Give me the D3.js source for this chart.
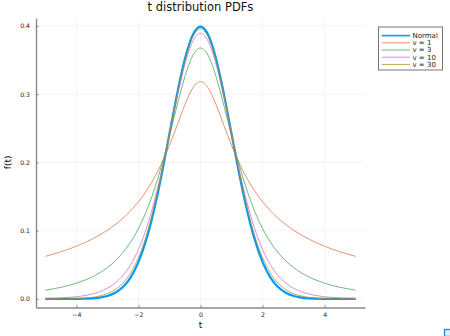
<!DOCTYPE html>
<html>
<head>
<meta charset="utf-8">
<script src="https://cdn.jsdelivr.net/npm/d3@7"></script>
<style>
  html, body { margin: 0; padding: 0; background: #fff; }
  svg { display: block; font-family: "DejaVu Sans", sans-serif; }
</style>
</head>
<body>
<svg id="chart" width="450" height="336"></svg>
<script>
// Sample points along t
const tValues = [
  -5, -4.75, -4.5, -4.25, -4, -3.75, -3.5, -3.25, -3, -2.75, -2.5, -2.25, -2, -1.75, -1.5, -1.25, -1, -0.75, -0.5, -0.25,
  0, 0.25, 0.5, 0.75, 1, 1.25, 1.5, 1.75, 2, 2.25, 2.5, 2.75, 3, 3.25, 3.5, 3.75, 4, 4.25, 4.5, 4.75, 5
];

// Density values at each sample point
const normalPdf = [
  0.00000, 0.00001, 0.00002, 0.00005, 0.00013, 0.00035, 0.00087, 0.00203, 0.00443, 0.00909, 0.01753, 0.03174, 0.05399, 0.08628, 0.12952, 0.18265, 0.24197, 0.30114, 0.35207, 0.38667,
  0.39894,
  0.38667, 0.35207, 0.30114, 0.24197, 0.18265, 0.12952, 0.08628, 0.05399, 0.03174, 0.01753, 0.00909, 0.00443, 0.00203, 0.00087, 0.00035, 0.00013, 0.00005, 0.00002, 0.00001, 0.00000
];
const nu1Pdf = [
  0.06243, 0.06558, 0.06905, 0.07291, 0.07720, 0.08202, 0.08745, 0.09361, 0.10066, 0.10878, 0.11822, 0.12928, 0.14235, 0.15793, 0.17657, 0.19885, 0.22508, 0.25465, 0.28470, 0.30881,
  0.31831,
  0.30881, 0.28470, 0.25465, 0.22508, 0.19885, 0.17657, 0.15793, 0.14235, 0.12928, 0.11822, 0.10878, 0.10066, 0.09361, 0.08745, 0.08202, 0.07720, 0.07291, 0.06905, 0.06558, 0.06243
];
const nu3Pdf = [
  0.01289, 0.01478, 0.01704, 0.01976, 0.02306, 0.02710, 0.03207, 0.03824, 0.04594, 0.05563, 0.06789, 0.08342, 0.10312, 0.12794, 0.15877, 0.19597, 0.23873, 0.28403, 0.32597, 0.35636,
  0.36755,
  0.35636, 0.32597, 0.28403, 0.23873, 0.19597, 0.15877, 0.12794, 0.10312, 0.08342, 0.06789, 0.05563, 0.04594, 0.03824, 0.03207, 0.02710, 0.02306, 0.01976, 0.01704, 0.01478, 0.01289
];
const nu10Pdf = [
  0.00074, 0.00106, 0.00154, 0.00224, 0.00328, 0.00482, 0.00714, 0.01058, 0.01571, 0.02328, 0.03434, 0.05019, 0.07235, 0.10232, 0.14106, 0.18828, 0.24161, 0.29595, 0.34392, 0.37718,
  0.38911,
  0.37718, 0.34392, 0.29595, 0.24161, 0.18828, 0.14106, 0.10232, 0.07235, 0.05019, 0.03434, 0.02328, 0.01571, 0.01058, 0.00714, 0.00482, 0.00328, 0.00224, 0.00154, 0.00106, 0.00074
];
const nu30Pdf = [
  0.00004, 0.00009, 0.00017, 0.00034, 0.00065, 0.00124, 0.00233, 0.00429, 0.00773, 0.01358, 0.02314, 0.03814, 0.06051, 0.09206, 0.13371, 0.18474, 0.24193, 0.29940, 0.34932, 0.38347,
  0.39563,
  0.38347, 0.34932, 0.29940, 0.24193, 0.18474, 0.13371, 0.09206, 0.06051, 0.03814, 0.02314, 0.01358, 0.00773, 0.00429, 0.00233, 0.00124, 0.00065, 0.00034, 0.00017, 0.00009, 0.00004
];

const seriesNames = ["Normal", "v = 1", "v = 3", "v = 10", "v = 30"];
const seriesValues = [normalPdf, nu1Pdf, nu3Pdf, nu10Pdf, nu30Pdf];

const xTicks = [-4, -2, 0, 2, 4];
const xTickLabels = ["\u22124", "\u22122", "0", "2", "4"];
const yTicks = [0, 0.1, 0.2, 0.3, 0.4];
const yTickLabels = ["0.0", "0.1", "0.2", "0.3", "0.4"];

const titleText = "t distribution PDFs";
const xLabel = "t";
const yLabel = "f(t)";

// Styling
const colors = ["#009AFA", "#E26F46", "#3DA44D", "#C270D2", "#AC8E18"];
const widths = [2.2, 1, 1, 1, 1];
const legendWidths = [1.6, 1, 1, 1, 1];
const opacities = [1, 0.75, 0.75, 0.75, 0.75];

const svg = d3.select("#chart");
const plot = { left: 36, right: 365, top: 18, bottom: 307.5 };

const x = d3.scaleLinear().domain([-5.3, 5.3]).range([plot.left, plot.right]);
const y = d3.scaleLinear().domain([-0.0125, 0.4115]).range([plot.bottom, plot.top]);

// Grid
const grid = svg.append("g").attr("stroke", "#000").attr("stroke-opacity", 0.08).attr("stroke-width", 0.6);
grid.selectAll("line.gx").data(xTicks).join("line")
  .attr("x1", d => x(d)).attr("x2", d => x(d))
  .attr("y1", plot.top).attr("y2", plot.bottom);
grid.selectAll("line.gy").data(yTicks).join("line")
  .attr("x1", plot.left).attr("x2", plot.right)
  .attr("y1", d => y(d)).attr("y2", d => y(d));

// Axes
const xAxis = d3.axisBottom(x).tickValues(xTicks)
  .tickFormat((d, i) => xTickLabels[i]).tickSizeInner(-2.5).tickSizeOuter(0).tickPadding(5);
const yAxis = d3.axisLeft(y).tickValues(yTicks)
  .tickFormat((d, i) => yTickLabels[i]).tickSizeInner(-2.5).tickSizeOuter(0).tickPadding(6);

function styleAxis(g) {
  g.select(".domain").attr("stroke", "#8a8a8a").attr("stroke-width", 1.4);
  g.selectAll(".tick line").attr("stroke", "#555").attr("stroke-width", 0.6);
  g.selectAll(".tick text").attr("fill", "#222").attr("font-size", 6.2)
    .attr("font-family", "DejaVu Sans, sans-serif");
}

svg.append("g").attr("transform", `translate(0,${plot.bottom})`).call(xAxis).call(styleAxis);
svg.append("g").attr("transform", `translate(${plot.left},0)`).call(yAxis).call(styleAxis);

// Curves
const line = d3.line()
  .x((d, i) => x(tValues[i]))
  .y(d => y(d))
  .curve(d3.curveMonotoneX);

svg.append("g").selectAll("path").data(seriesValues).join("path")
  .attr("d", d => line(d))
  .attr("fill", "none")
  .attr("stroke", (d, i) => colors[i])
  .attr("stroke-width", (d, i) => widths[i])
  .attr("stroke-opacity", (d, i) => opacities[i])
  .attr("stroke-linejoin", "round");

// Title and axis labels
svg.append("text").attr("x", (plot.left + plot.right) / 2).attr("y", 10.5)
  .attr("text-anchor", "middle").attr("font-size", 11.5).attr("fill", "#111").text(titleText);
svg.append("text").attr("x", x(0)).attr("y", 328)
  .attr("text-anchor", "middle").attr("font-size", 9).attr("fill", "#111").text(xLabel);
svg.append("text").attr("transform", "translate(10.5,162.3) rotate(-90)")
  .attr("text-anchor", "middle").attr("font-size", 9).attr("fill", "#111").text(yLabel);

// Legend
const legend = svg.append("g");
legend.append("rect").attr("x", 378.5).attr("y", 27).attr("width", 64).attr("height", 43)
  .attr("fill", "#fff").attr("stroke", "#555").attr("stroke-width", 0.8);
const rows = legend.selectAll("g.row").data(seriesNames).join("g")
  .attr("transform", (d, i) => `translate(0,${35.6 + i * 7.2})`);
rows.append("line").attr("x1", 381.7).attr("x2", 410).attr("y1", 0).attr("y2", 0)
  .attr("stroke", (d, i) => colors[i])
  .attr("stroke-width", (d, i) => legendWidths[i])
  .attr("stroke-opacity", (d, i) => opacities[i]);
rows.append("text").attr("x", 412.5).attr("y", 2.4).attr("font-size", 7).attr("fill", "#222")
  .text(d => d);

// Small badge in the lower-right corner
svg.append("rect").attr("x", 444.5).attr("y", 329.5).attr("width", 7).attr("height", 7)
  .attr("fill", "#dcefff").attr("stroke", "#2a8fe8").attr("stroke-width", 1.4);
</script>
</body>
</html>
